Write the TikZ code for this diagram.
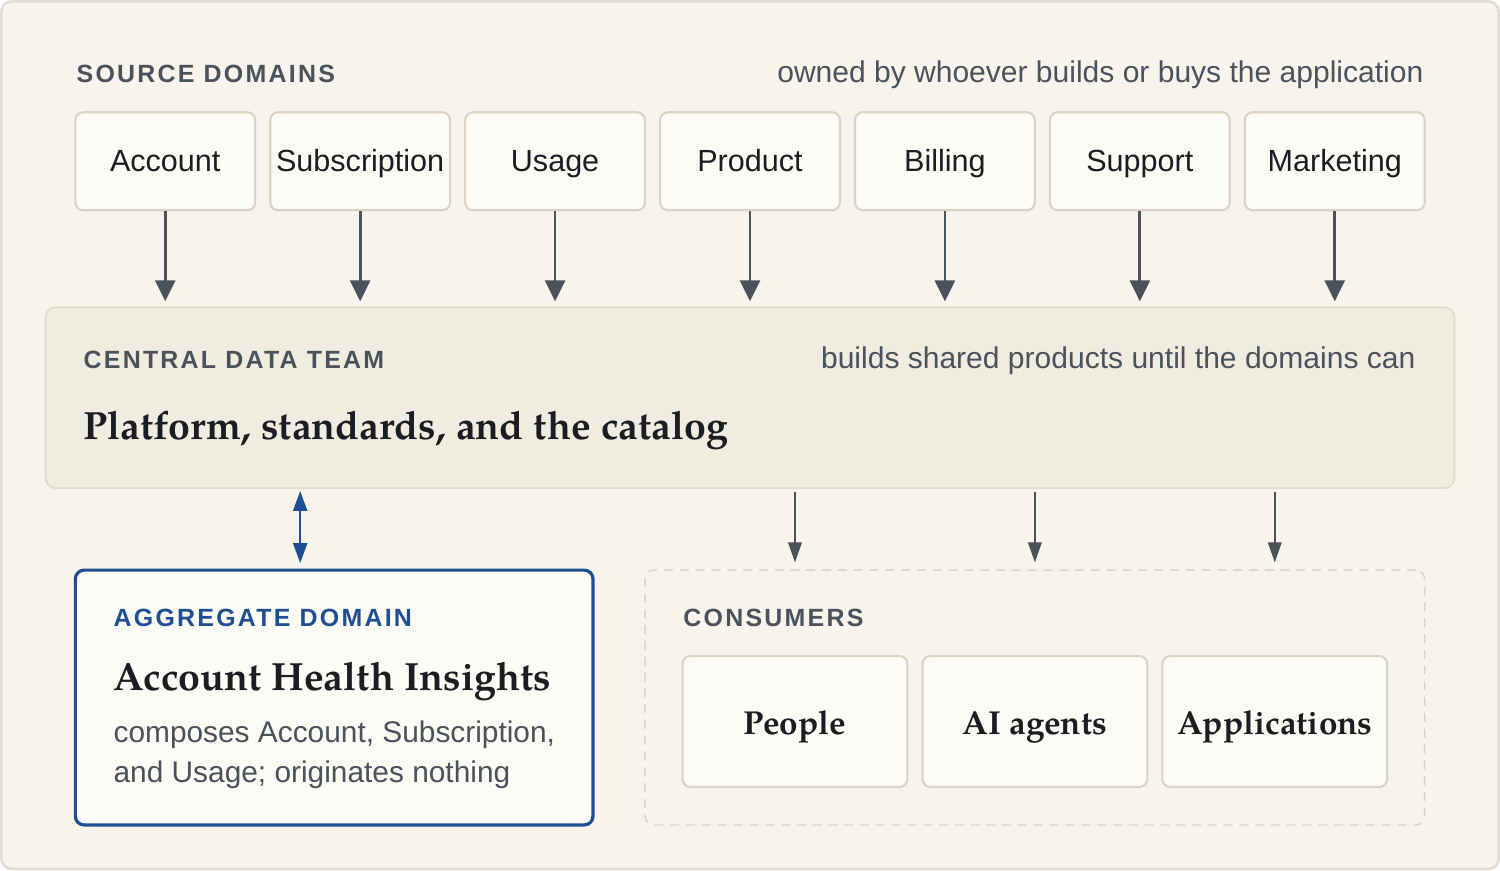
\documentclass[tikz,border=0pt]{standalone}
\usepackage{fontspec}
\setmainfont{Liberation Sans}
\newfontfamily\headserif{texgyrepagella-bold.otf}
\newfontfamily\capsfont{Liberation Sans}[LetterSpace=9]
\usetikzlibrary{arrows.meta,positioning}
\definecolor{pageBg}{HTML}{F8F4EC}
\definecolor{pageLine}{HTML}{E4DED0}
\definecolor{boxFill}{HTML}{FDFBF6}
\definecolor{boxLine}{HTML}{DCD4C1}
\definecolor{teamFill}{HTML}{F1ECE0}
\definecolor{teamLine}{HTML}{E3DCCB}
\definecolor{inkDark}{HTML}{1A1D22}
\definecolor{inkGrey}{HTML}{4A525C}
\definecolor{aggBlue}{HTML}{1E4F94}
\tikzset{
  >={Triangle[length=4.2mm,width=4mm]},
  srcbox/.style={rounded corners=4.5pt, draw=boxLine, fill=boxFill, line width=1.2pt,
              minimum width=3.6cm, minimum height=1.96cm, inner sep=0pt,
              text height=16pt, text depth=4pt,
              font=\fontsize{17.4}{20}\selectfont, text=inkDark},
  usebox/.style={srcbox, minimum width=4.5cm, minimum height=2.62cm,
              text height=19.5pt, text depth=4.2pt,
              font=\headserif\fontsize{18.9}{22}\selectfont},
  team/.style={rounded corners=6pt, draw=teamLine, fill=teamFill, line width=1pt,
              minimum width=28.2cm, minimum height=3.62cm},
  agg/.style={rounded corners=5pt, draw=aggBlue, fill=boxFill, line width=1.8pt,
              minimum width=10.36cm, minimum height=5.1cm},
  consumers/.style={rounded corners=5pt, draw=boxLine, dashed, dash pattern=on 5pt off 4pt,
              line width=0.8pt, minimum width=15.6cm, minimum height=5.1cm},
  caps/.style={anchor=base west, inner sep=0pt, font=\capsfont\bfseries\fontsize{14.2}{16}\selectfont, text=inkGrey},
  note/.style={anchor=base east, inner sep=0pt, font=\fontsize{17.1}{20}\selectfont, text=inkGrey},
  title/.style={anchor=base west, inner sep=0pt, font=\headserif\fontsize{22.4}{26}\selectfont, text=inkDark},
  desc/.style={anchor=base west, inner sep=0pt, font=\fontsize{17}{20}\selectfont, text=inkGrey},
  feed/.style={->, draw=inkGrey, line width=1.6pt, shorten >=0.1cm},
  serve/.style={->, draw=inkGrey, line width=1.1pt, >={Triangle[length=4mm,width=2.7mm]},
              shorten <=0.06cm, shorten >=0.14cm},
  link/.style={<->, draw=aggBlue, line width=1.2pt, >={Triangle[length=4mm,width=2.8mm]},
              shorten <=0.04cm, shorten >=0.14cm},
}
\begin{document}
\begin{tikzpicture}[x=0.02cm,y=-0.02cm]
  \draw[rounded corners=6pt, draw=pageLine, fill=pageBg, line width=1.5pt] (1,1) rectangle (1499,869);
  % source domains
  \node[caps] (srclbl) at (76,82.5) {SOURCE DOMAINS};
  \node[note] (srcnote) at (1424,82) {owned by whoever builds or buys the application};
  \node[srcbox] (acc) at (165,161) {Account};
  \node[srcbox] (sub) at (360,161) {Subscription};
  \node[srcbox] (usg) at (555,161) {Usage};
  \node[srcbox] (prd) at (750,161) {Product};
  \node[srcbox] (bil) at (945,161) {Billing};
  \node[srcbox] (sup) at (1140,161) {Support};
  \node[srcbox] (mkt) at (1335,161) {Marketing};
  % central team
  \node[team] (central) at (750,397.5) {};
  \node[caps] (teamlbl) at (83,368) {CENTRAL DATA TEAM};
  \node[note] (teamnote) at (1416,368) {builds shared products until the domains can};
  \node[title] (teamtitle) at (83,439) {Platform, standards, and the catalog};
  \foreach \s in {acc,sub,usg,prd,bil,sup,mkt}
    \draw[feed] (\s.south) -- (\s.south |- central.north);
  % aggregate domain
  \node[agg] (aggr) at (334,697.5) {};
  \node[caps, text=aggBlue] (agglbl) at (113,626) {AGGREGATE DOMAIN};
  \node[title] (aggtitle) at (113,690) {Account Health Insights};
  \node[desc] (aggdesc) at (113,742) {composes Account, Subscription,};
  \node[desc] (aggdesc2) at (113,782) {and Usage; originates nothing};
  \coordinate (aggin) at (300,570);
  \draw[link] (central.south -| aggin) -- (aggin);
  % consumers
  \node[consumers] (cons) at (1035,697.5) {};
  \node[caps] (conslbl) at (683,626) {CONSUMERS};
  \node[usebox] (ppl) at (795,721.5) {People};
  \node[usebox] (ai) at (1035,721.5) {AI agents};
  \node[usebox] (app) at (1275,721.5) {Applications};
  \foreach \c in {ppl,ai,app}
    \draw[serve] (central.south -| \c) -- (cons.north -| \c);
\end{tikzpicture}
\end{document}
